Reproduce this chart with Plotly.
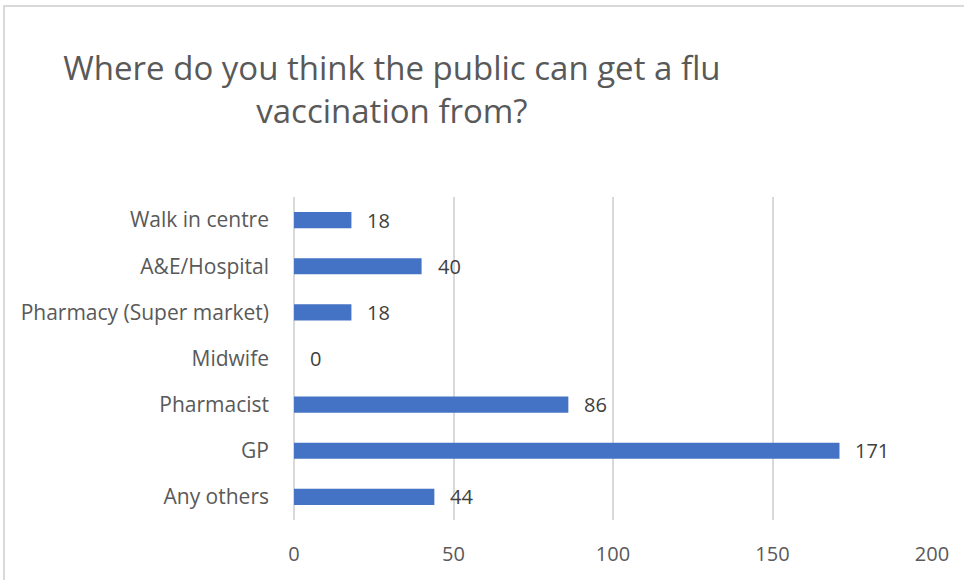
import plotly.graph_objects as go

categories = ["Any others", "GP", "Pharmacist", "Midwife",
              "Pharmacy (Super market)", "A&E/Hospital", "Walk in centre"]
values = [44, 171, 86, 0, 18, 40, 18]
x_ticks = [0, 50, 100, 150, 200]

FONT = "Open Sans"
GREY = "#595959"

fig = go.Figure()
fig.add_trace(go.Bar(
    y=categories, x=values, orientation="h",
    marker=dict(color="#4472C4", line=dict(width=0)),
    showlegend=False, hoverinfo="x+y",
))

for c, v in zip(categories, values):
    fig.add_annotation(x=v, y=c, text=str(v), showarrow=False,
                       xanchor="left", xshift=14,
                       font=dict(family=FONT, size=20, color="#404040"))

fig.add_shape(type="rect", xref="paper", yref="paper",
              x0=-0.4545, x1=1.2, y0=-0.4, y1=1.591,
              line=dict(color="#d9d9d9", width=2), fillcolor="rgba(0,0,0,0)",
              layer="below")

fig.update_layout(
    width=964, height=580,
    margin=dict(l=294, r=32, t=197, b=60),
    paper_bgcolor="white", plot_bgcolor="white",
    bargap=0.65,
    title=dict(text="Where do you think the public can get a flu<br>vaccination from?",
               x=0.4066, xanchor="center", xref="container",
               y=0.862, yanchor="top", yref="container",
               font=dict(family=FONT, size=33, color=GREY)),
    xaxis=dict(range=[0, 200], tickvals=x_ticks, showgrid=True,
               gridcolor="#d9d9d9", gridwidth=1.5, zeroline=True,
               zerolinecolor="#d9d9d9", zerolinewidth=1.5, showline=False,
               ticklabelstandoff=20,
               tickfont=dict(family=FONT, size=20, color=GREY), fixedrange=True),
    yaxis=dict(categoryorder="array", categoryarray=categories,
               showgrid=False, showline=False, ticklabelstandoff=24,
               tickfont=dict(family=FONT, size=21, color=GREY), fixedrange=True),
)

fig.write_html("out.html", config={"displayModeBar": False},
               post_script="document.body.style.margin='0';")
